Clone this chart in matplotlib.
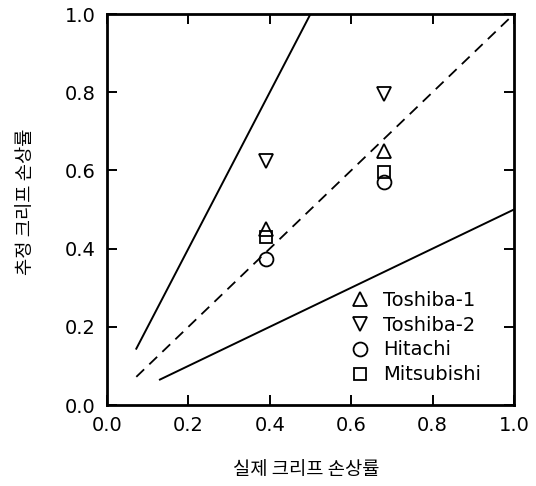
import matplotlib
matplotlib.use("Agg")
import matplotlib.pyplot as plt

plt.rcParams['font.family'] = ['DejaVu Sans', 'Noto Sans CJK KR']

# measured data
series = ["Toshiba-1", "Toshiba-2", "Hitachi", "Mitsubishi"]
markers = ["^", "v", "o", "s"]
x_vals = {
    "Toshiba-1": [0.39, 0.68],
    "Toshiba-2": [0.39, 0.68],
    "Hitachi": [0.39, 0.68],
    "Mitsubishi": [0.39, 0.68],
}
y_vals = {
    "Toshiba-1": [0.45, 0.65],
    "Toshiba-2": [0.625, 0.795],
    "Hitachi": [0.373, 0.57],
    "Mitsubishi": [0.43, 0.595],
}

# factor-of-2 band lines
upper_x = [0.072, 0.5]
upper_y = [0.144, 1.0]
mid_x = [0.072, 1.0]
mid_y = [0.072, 1.0]
lower_x = [0.13, 1.0]
lower_y = [0.065, 0.5]

ticks = [0.0, 0.2, 0.4, 0.6, 0.8, 1.0]

fig = plt.figure(figsize=(5.36, 4.86), dpi=100)
ax = fig.add_axes([107/536, 1 - 405/486, 407/536, 391/486])

ax.plot(upper_x, upper_y, color="black", lw=1.4)
ax.plot(mid_x, mid_y, color="black", lw=1.3, dashes=(6, 4))
ax.plot(lower_x, lower_y, color="black", lw=1.4)

for name, m in zip(series, markers):
    ax.plot(x_vals[name], y_vals[name], linestyle="none", marker=m,
            markersize=10 if m != "s" else 8.5, markerfacecolor="none",
            markeredgecolor="black", markeredgewidth=1.3, label=name)

ax.set_xlim(0, 1)
ax.set_ylim(0, 1)
ax.set_xticks(ticks)
ax.set_yticks(ticks)
ax.set_xticklabels([f"{t:.1f}" for t in ticks])
ax.set_yticklabels([f"{t:.1f}" for t in ticks])
ax.tick_params(direction="in", length=7, width=1.4, labelsize=14,
               top=True, right=True, pad=8)
for s in ax.spines.values():
    s.set_linewidth(2)

kr = ['Noto Sans CJK KR', 'DejaVu Sans']
ax.set_xlabel("실제 크리프 손상률", fontsize=13.5, family=kr, va="center")
ax.set_ylabel("추정 크리프 손상률", fontsize=13.5, family=kr, va="center")
ax.xaxis.set_label_coords(0.49, -0.164)
ax.yaxis.set_label_coords(-0.201, 0.519)

ax.legend(loc="upper left", bbox_to_anchor=(0.597, 0.292), frameon=False,
          fontsize=14, handlelength=1.0, handletextpad=0.7,
          labelspacing=0.3, borderaxespad=0, borderpad=0)

fig.savefig("out.png", dpi=100)
